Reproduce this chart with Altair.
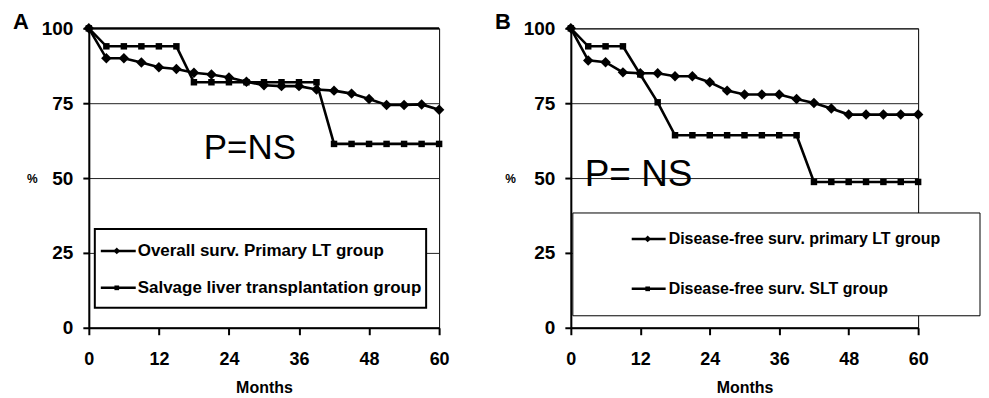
import altair as alt
import pandas as pd

months = [0, 3, 6, 9, 12, 15, 18, 21, 24, 27, 30, 33, 36, 39, 42, 45, 48, 51, 54, 57, 60]

a_names = ["Overall surv. Primary LT group", "Salvage liver transplantation group"]
a_primary = [100, 90, 90, 88.6, 87, 86.4, 85.2, 84.6, 83.6, 82.2, 81, 80.7, 80.7, 79.6,
             79.2, 78.2, 76.4, 74.4, 74.4, 74.6, 72.8]
a_salvage = [100, 94, 94, 94, 94, 94, 82, 82, 82, 82, 82, 82, 82, 82,
             61.4, 61.4, 61.4, 61.4, 61.4, 61.4, 61.4]

b_names = ["Disease-free surv. primary LT group", "Disease-free surv. SLT group"]
b_primary = [100, 89.3, 88.7, 85.3, 85, 85, 84, 84, 82, 79.2, 77.9, 77.9, 77.9, 76.4,
             75.1, 73.2, 71.2, 71.2, 71.2, 71.2, 71.2]
b_slt = [100, 94, 94, 94, 84.6, 75.3, 64.3, 64.3, 64.3, 64.3, 64.3, 64.3, 64.3, 64.3,
         48.7, 48.7, 48.7, 48.7, 48.7, 48.7, 48.7]

x_ticks = [0, 12, 24, 36, 48, 60]
y_ticks = [0, 25, 50, 75, 100]

FONT = "Liberation Sans"


def frame(vals, name):
    return pd.DataFrame({"month": months, "value": vals, "series": name})


def panel(names, v1, v2, letter, ptext, pxy, psize, w, pct_x, leg, top_thick):
    one = pd.DataFrame({"k": [0]})
    X = alt.X("month:Q", scale=alt.Scale(domain=[0, 60], nice=False, zero=False),
              axis=alt.Axis(values=x_ticks, title="Months", grid=False, tickSize=7,
                            labelPadding=16, labelFontSize=18, labelFontWeight="bold",
                            titleFontSize=16, titleFontWeight="bold", titlePadding=11,
                            labelFlush=False))
    Y = alt.Y("value:Q", scale=alt.Scale(domain=[0, 100], nice=False),
              axis=alt.Axis(values=y_ticks, title="%", titleAngle=0, titleX=pct_x, titleY=150,
                            titleAlign="center", titleBaseline="middle", titleFontSize=12,
                            titleFontWeight="bold", grid=True, gridColor="#222222",
                            gridWidth=1, tickSize=6, labelPadding=10, labelFontSize=19,
                            labelFontWeight="bold"))
    d1 = frame(v1, names[0])
    d2 = frame(v2, names[1])
    layers = []
    if top_thick:
        layers.append(alt.Chart(one).mark_rule(color="black", strokeWidth=2)
                      .encode(y=alt.datum(100)))
    layers += [
        alt.Chart(d2).mark_line(color="black", strokeWidth=2.6).encode(X, Y),
        alt.Chart(d2).mark_point(shape="square", filled=True, size=42, color="black",
                                 opacity=1).encode(X, Y),
        alt.Chart(d1).mark_line(color="black", strokeWidth=2.6).encode(X, Y),
        alt.Chart(d1).mark_point(shape="diamond", filled=True, size=110, color="black",
                                 opacity=1).encode(X, Y),
        alt.Chart(one).mark_text(text=ptext, fontSize=psize, align="left",
                                 baseline="alphabetic", color="black", font=FONT)
        .encode(x=alt.datum(pxy[0]), y=alt.datum(pxy[1])),
        alt.Chart(one).mark_text(text=letter, fontSize=22, fontWeight="bold", align="left",
                                 baseline="alphabetic", color="black", font=FONT)
        .encode(x=alt.value(-76), y=alt.value(0.5)),
    ]
    bx1, bx2, by1, by2, bsw, sx1, sx2, smx, ys, tx, fs = leg
    layers.append(alt.Chart(one).mark_rect(fill="white", stroke="black", strokeWidth=bsw)
                  .encode(x=alt.value(bx1), x2=alt.value(bx2), y=alt.value(by1),
                          y2=alt.value(by2)))
    shapes = [("diamond", 45), ("square", 22)]
    for i in range(2):
        layers.append(alt.Chart(one).mark_rule(color="black", strokeWidth=2.5)
                      .encode(x=alt.value(sx1), x2=alt.value(sx2), y=alt.value(ys[i])))
        layers.append(alt.Chart(one).mark_point(shape=shapes[i][0], size=shapes[i][1],
                                                filled=True, color="black", opacity=1)
                      .encode(x=alt.value(smx), y=alt.value(ys[i])))
        layers.append(alt.Chart(one).mark_text(text=names[i], fontSize=fs, fontWeight="bold",
                                               align="left", baseline="middle",
                                               color="black", font=FONT)
                      .encode(x=alt.value(tx), y=alt.value(ys[i])))
    return alt.layer(*layers).properties(width=w, height=300)


pa = panel(a_names, a_primary, a_salvage, "A", "P=NS", (19.7, 56.3), 35, 351, -57,
           (6, 338, 201, 280, 2, 12, 47, 28, (223, 260), 49, 17), True)
pb = panel(b_names, b_primary, b_slt, "B", "P= NS", (2.4, 47.3), 37, 348, -61,
           (2, 410, 185, 288, 1, 61, 95, 77, (211, 261), 98, 16), False)

chart = alt.hconcat(pa, pb, spacing=132, bounds="flush").properties(
    padding={"left": 4, "top": 2, "right": 0, "bottom": 0}
).configure(font=FONT).configure_view(stroke="black", strokeWidth=1).configure_axis(
    domainColor="black", domainWidth=2, tickColor="black", tickWidth=2,
    labelColor="black", titleColor="black", labelFont=FONT, titleFont=FONT
)

chart.save("out.html", embed_options={"renderer": "svg", "actions": False})
